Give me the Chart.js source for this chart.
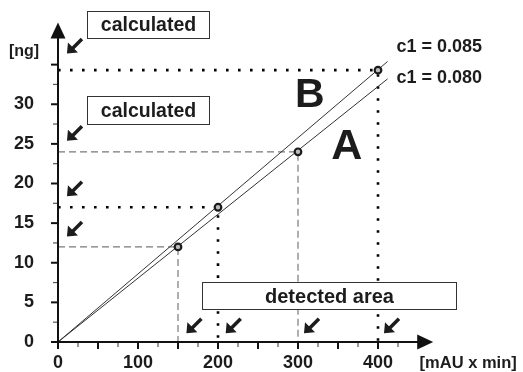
<!DOCTYPE html>
<html>
<head>
<meta charset="utf-8">
<script src="https://cdn.jsdelivr.net/npm/chart.js@4.4.0/dist/chart.umd.min.js"></script>
<style>
html,body{margin:0;padding:0;background:#fff}
</style>
</head>
<body>
<canvas id="chart" width="523" height="372"></canvas>
<script>
// calibration lines (through origin)
const lineX = [0, 412]
const c085Y = [0, 35.4]
const c080Y = [0, 33.2]
const lineLabels = ['c1 = 0.085', 'c1 = 0.080']
const lineLabelY = [37.2, 33.3]

// measured points and their guide style
const pointX = [150, 200, 300, 400]
const pointY = [12, 17, 24, 34.3]
const guideStyle = ['dashed', 'dotted', 'dashed', 'dotted']

// axes
const xMax = 470
const yMax = 40
const xLabelStep = 100
const yLabelStep = 5
const xLastLabel = 400
const yLastLabel = 30

// small arrows: y-axis ones sit at x=11.7, x-axis ones at y=1.1
const yArrowTips = [36.4, 25.4, 18.4, 13.3]
const xArrowTips = [160.5, 209.6, 307.5, 407.5]

// text boxes (data units)
const boxTexts = ['calculated', 'calculated', 'detected area']
const boxX0 = [36, 36, 179.6]
const boxX1 = [188.5, 188.5, 497]
const boxYTop = [41.8, 31.0, 7.6]
const boxYBot = [38.4, 27.5, 4.2]

const FONT = '"Liberation Sans", Arial, sans-serif'
const INK = '#1c1c1c'

function guideData(i) {
    return [{x: 0, y: pointY[i]}, {x: pointX[i], y: pointY[i]}, {x: pointX[i], y: 0}]
}

let datasets = []
pointX.forEach((px, i) => {
    const dotted = guideStyle[i] == 'dotted'
    datasets.push({
        data: guideData(i),
        showLine: true,
        pointRadius: 0,
        borderColor: dotted ? '#000' : '#7a7a7a',
        borderWidth: dotted ? 2.6 : 1.2,
        borderDash: dotted ? [2.6, 9.4] : [7, 4],
        order: 3,
        clip: false
    })
})
datasets.push({
    data: lineX.map((v, i) => ({x: v, y: c085Y[i]})),
    showLine: true, pointRadius: 0, borderColor: '#333', borderWidth: 1, order: 2
})
datasets.push({
    data: lineX.map((v, i) => ({x: v, y: c080Y[i]})),
    showLine: true, pointRadius: 0, borderColor: '#333', borderWidth: 1, order: 2
})
datasets.push({
    data: pointX.map((v, i) => ({x: v, y: pointY[i]})),
    pointRadius: 3.3,
    pointBorderWidth: 2.2,
    pointBorderColor: '#1a1a1a',
    pointBackgroundColor: '#bdbdbd',
    order: 1
})

function smallArrow(ctx, tx, ty) {
    ctx.beginPath()
    ctx.lineWidth = 3.5
    ctx.moveTo(tx + 15, ty - 14.5)
    ctx.lineTo(tx + 5, ty - 4.5)
    ctx.stroke()
    ctx.beginPath()
    ctx.moveTo(tx, ty)
    ctx.lineTo(tx + 1, ty - 11)
    ctx.lineTo(tx + 11, ty - 1)
    ctx.closePath()
    ctx.fill()
}

const decor = {
    id: 'decor',
    afterDatasetsDraw(chart) {
        const ctx = chart.ctx
        const xs = chart.scales.x
        const ys = chart.scales.y
        const X = v => xs.getPixelForValue(v)
        const Y = v => ys.getPixelForValue(v)
        ctx.save()
        ctx.fillStyle = '#111'
        ctx.strokeStyle = '#111'

        // tick marks
        for (let v = 0; v <= 425; v += 25) {
            const major = v % 50 == 0
            ctx.lineWidth = major ? 2 : 1.2
            ctx.strokeStyle = major ? '#111' : '#555'
            ctx.beginPath()
            ctx.moveTo(X(v), Y(0))
            ctx.lineTo(X(v), Y(0) + (major ? 7 : 5))
            ctx.stroke()
        }
        for (let v = 0; v <= 35; v += 2.5) {
            const major = v % 5 == 0
            ctx.lineWidth = major ? 2 : 1.2
            ctx.strokeStyle = major ? '#111' : '#555'
            ctx.beginPath()
            ctx.moveTo(X(0), Y(v))
            ctx.lineTo(X(0) - (major ? 7 : 5), Y(v))
            ctx.stroke()
        }

        // axes with arrow heads
        ctx.strokeStyle = '#111'
        ctx.lineWidth = 2
        const yTip = Y(40.3), xTip = X(469)
        ctx.beginPath()
        ctx.moveTo(X(0), Y(0) + 1)
        ctx.lineTo(X(0), yTip + 14)
        ctx.moveTo(X(0) - 1, Y(0))
        ctx.lineTo(xTip - 14, Y(0))
        ctx.stroke()
        ctx.beginPath()
        ctx.moveTo(X(0), yTip)
        ctx.lineTo(X(0) - 7.5, yTip + 16)
        ctx.lineTo(X(0) + 7.5, yTip + 16)
        ctx.closePath()
        ctx.fill()
        ctx.beginPath()
        ctx.moveTo(xTip, Y(0))
        ctx.lineTo(xTip - 16, Y(0) - 7.5)
        ctx.lineTo(xTip - 16, Y(0) + 7.5)
        ctx.closePath()
        ctx.fill()

        // small arrows
        ctx.fillStyle = INK
        ctx.strokeStyle = INK
        yArrowTips.forEach(v => smallArrow(ctx, X(11.2), Y(v)))
        xArrowTips.forEach(v => smallArrow(ctx, X(v), Y(1.1)))

        // boxes
        boxTexts.forEach((t, i) => {
            const x0 = Math.round(X(boxX0[i])) + 0.5, x1 = Math.round(X(boxX1[i])) + 0.5
            const y0 = Math.round(Y(boxYTop[i])) + 0.5, y1 = Math.round(Y(boxYBot[i])) + 0.5
            ctx.fillStyle = '#fff'
            ctx.fillRect(x0, y0, x1 - x0, y1 - y0)
            ctx.lineWidth = 1
            ctx.strokeStyle = '#333'
            ctx.strokeRect(x0, y0, x1 - x0, y1 - y0)
            ctx.fillStyle = INK
            ctx.font = 'bold ' + (i == 2 ? 20 : 19.5) + 'px ' + FONT
            ctx.textAlign = 'center'
            ctx.textBaseline = 'middle'
            ctx.fillText(t, (x0 + x1) / 2, (y0 + y1) / 2 + 1)
        })

        // line labels
        ctx.fillStyle = INK
        ctx.font = 'bold 18px ' + FONT
        ctx.textAlign = 'left'
        ctx.textBaseline = 'middle'
        lineLabels.forEach((t, i) => ctx.fillText(t, X(423), Y(lineLabelY[i])))

        // area letters
        ctx.font = 'bold 41px ' + FONT
        ctx.textAlign = 'center'
        ctx.textBaseline = 'alphabetic'
        ctx.fillText('B', X(314.6), Y(29.7))
        ctx.font = 'bold 43px ' + FONT
        ctx.fillText('A', X(361), Y(23.1))

        // axis titles
        ctx.font = 'bold 16px ' + FONT
        ctx.textAlign = 'center'
        ctx.textBaseline = 'middle'
        ctx.fillText('[ng]', 24, Y(36.6))
        ctx.font = 'bold 16.5px ' + FONT
        ctx.textAlign = 'left'
        ctx.fillText('[mAU x min]', X(452), Y(0) + 21)
        ctx.restore()
    }
}

let chart = new Chart(document.querySelector('#chart'), {
    type: 'scatter',
    data: {datasets},
    options: {
        responsive: false,
        animation: false,
        events: [],
        layout: {padding: {top: 25, right: 89, bottom: 0, left: 0}},
        plugins: {legend: {display: false}, tooltip: {enabled: false}},
        scales: {
            x: {
                type: 'linear', min: 0, max: xMax,
                grid: {display: false, drawTicks: true, tickLength: 10},
                border: {display: false},
                afterFit: s => { s.height = 30 },
                ticks: {
                    stepSize: xLabelStep, includeBounds: false, padding: 0,
                    color: INK, font: {family: FONT, size: 18, weight: 'bold'},
                    callback: v => v <= xLastLabel ? v : ''
                }
            },
            y: {
                type: 'linear', min: 0, max: yMax,
                grid: {display: false, drawTicks: true, tickLength: 24},
                border: {display: false},
                afterFit: s => { s.width = 58 },
                ticks: {
                    stepSize: yLabelStep, includeBounds: false, padding: 0,
                    color: INK, font: {family: FONT, size: 18, weight: 'bold'},
                    callback: v => v <= yLastLabel ? v : ''
                }
            }
        }
    },
    plugins: [decor]
})
</script>
</body>
</html>
